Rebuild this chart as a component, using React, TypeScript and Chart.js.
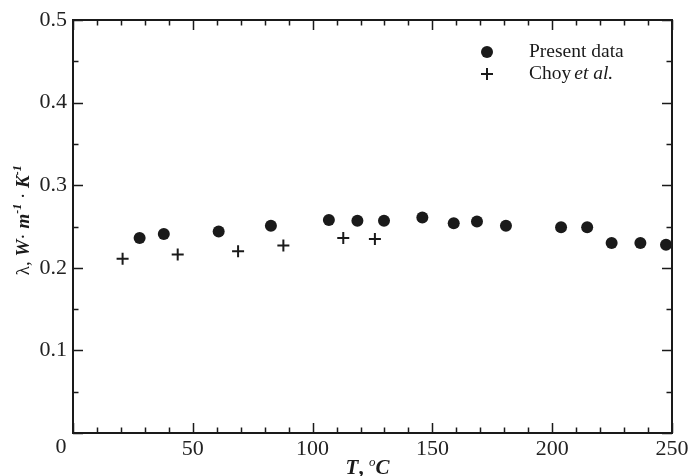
import React, { useEffect, useRef } from "react";
import { Chart, registerables } from "chart.js";

Chart.register(...registerables);

// ---- Data ----
const presentT = [27.8, 37.9, 60.8, 82.6, 106.8, 118.7, 129.8, 145.8, 158.9, 168.6, 180.7, 203.7, 214.6, 224.8, 236.8, 247.5];
const presentK = [0.236, 0.241, 0.244, 0.251, 0.258, 0.257, 0.257, 0.261, 0.254, 0.256, 0.251, 0.249, 0.249, 0.230, 0.230, 0.228];
const choyT = [20.7, 43.7, 68.9, 87.8, 112.8, 126.0];
const choyK = [0.211, 0.216, 0.220, 0.227, 0.236, 0.235];

const xTicks = [0, 50, 100, 150, 200, 250];
const yTicks = [0.1, 0.2, 0.3, 0.4, 0.5];

const SERIF = '"Liberation Serif", "DejaVu Serif", "Times New Roman", serif';
const INK = "#1a1a1a";

const framePlugin = {
  id: "frameAndTicks",
  afterDatasetsDraw(chart: any) {
    const { ctx, chartArea: a, scales } = chart;
    const xs = scales.x;
    const ys = scales.y;
    ctx.save();
    ctx.strokeStyle = INK;
    // minor/major inward ticks on all four sides
    ctx.lineWidth = 1.5;
    for (let v = 0; v <= 250; v += 10) {
      const px = Math.round(xs.getPixelForValue(v)) + 0.5;
      const len = v % 50 === 0 ? 10 : 5.5;
      ctx.beginPath();
      ctx.moveTo(px, a.bottom);
      ctx.lineTo(px, a.bottom - len);
      ctx.moveTo(px, a.top);
      ctx.lineTo(px, a.top + len);
      ctx.stroke();
    }
    for (let i = 0; i <= 10; i++) {
      const v = i * 0.05;
      const py = Math.round(ys.getPixelForValue(v)) + 0.5;
      const len = i % 2 === 0 ? 10 : 5.5;
      ctx.beginPath();
      ctx.moveTo(a.left, py);
      ctx.lineTo(a.left + len, py);
      ctx.moveTo(a.right, py);
      ctx.lineTo(a.right - len, py);
      ctx.stroke();
    }
    // frame
    ctx.lineWidth = 2;
    ctx.strokeRect(a.left, a.top, a.right - a.left, a.bottom - a.top);

    // origin label "0"
    ctx.fillStyle = "#222";
    ctx.font = `22px ${SERIF}`;
    ctx.textAlign = "center";
    ctx.textBaseline = "middle";
    ctx.fillText("0", a.left - 12, a.bottom + 14);

    // legend
    const lx = a.right - 185;
    const tx = a.right - 143;
    const ly1 = a.top + 32;
    const ly2 = a.top + 54;
    ctx.fillStyle = INK;
    ctx.beginPath();
    ctx.arc(lx, ly1, 6, 0, Math.PI * 2);
    ctx.fill();
    ctx.lineWidth = 2;
    ctx.beginPath();
    ctx.moveTo(lx - 6, ly2);
    ctx.lineTo(lx + 6, ly2);
    ctx.moveTo(lx, ly2 - 6);
    ctx.lineTo(lx, ly2 + 6);
    ctx.stroke();
    ctx.textAlign = "left";
    ctx.font = `19.5px ${SERIF}`;
    ctx.fillText("Present data", tx, ly1);
    ctx.fillText("Choy ", tx, ly2);
    const w = ctx.measureText("Choy").width + 3;
    ctx.font = `italic 19.5px ${SERIF}`;
    ctx.fillText("et al.", tx + w, ly2);

    // x-axis title: T, °C
    const xParts: [string, string, number][] = [
      ["T", `bold italic 21px ${SERIF}`, 0],
      [", ", `bold 21px ${SERIF}`, 0],
      ["o", `italic 13px ${SERIF}`, -8],
      ["C", `bold italic 21px ${SERIF}`, 0],
    ];
    let total = 0;
    for (const [t, f] of xParts) {
      ctx.font = f;
      total += ctx.measureText(t).width;
    }
    let cx = (a.left + a.right) / 2 - 5 - total / 2;
    const xBase = a.bottom + 41;
    ctx.textBaseline = "alphabetic";
    for (const [t, f, dy] of xParts) {
      ctx.font = f;
      ctx.fillText(t, cx, xBase + dy);
      cx += ctx.measureText(t).width;
    }

    // y-axis title: λ, W· m^-1 · K^-1
    const yParts: [string, string, number][] = [
      ["λ, ", `19px ${SERIF}`, 0],
      ["W", `bold italic 19px ${SERIF}`, 0],
      ["· ", `19px ${SERIF}`, 0],
      ["m", `bold italic 19px ${SERIF}`, 0],
      ["-1", `bold italic 12px ${SERIF}`, -8],
      [" · ", `19px ${SERIF}`, 0],
      ["K", `bold italic 19px ${SERIF}`, 0],
      ["-1", `bold italic 12px ${SERIF}`, -8],
    ];
    total = 0;
    for (const [t, f] of yParts) {
      ctx.font = f;
      total += ctx.measureText(t).width;
    }
    ctx.translate(29, a.top + (a.bottom - a.top) * 0.485);
    ctx.rotate(-Math.PI / 2);
    let cy = -total / 2;
    for (const [t, f, dy] of yParts) {
      ctx.font = f;
      ctx.fillText(t, cy, dy);
      cy += ctx.measureText(t).width;
    }
    ctx.restore();
  },
};

export default function App() {
  const ref = useRef<HTMLCanvasElement | null>(null);

  useEffect(() => {
    if (!ref.current) return;
    const chart = new Chart(ref.current, {
      type: "scatter",
      data: {
        datasets: [
          {
            label: "Present data",
            data: presentT.map((t, i) => ({ x: t, y: presentK[i] })),
            pointStyle: "circle",
            pointRadius: 6,
            pointBackgroundColor: INK,
            pointBorderColor: INK,
            pointBorderWidth: 0,
            clip: false,
          },
          {
            label: "Choy et al.",
            data: choyT.map((t, i) => ({ x: t, y: choyK[i] })),
            pointStyle: "cross",
            pointRadius: 6,
            pointBorderColor: INK,
            pointBorderWidth: 2,
            clip: false,
          },
        ],
      },
      options: {
        animation: false,
        responsive: true,
        maintainAspectRatio: false,
        layout: { padding: { top: 20, right: 17, left: 0, bottom: 0 } },
        plugins: {
          legend: { display: false },
          tooltip: { enabled: false },
        },
        scales: {
          x: {
            type: "linear",
            min: 0,
            max: 250,
            afterBuildTicks: (s: any) => {
              s.ticks = xTicks.map((v) => ({ value: v }));
            },
            afterFit: (s: any) => {
              s.height = 43;
              s.paddingLeft = 0;
              s.paddingRight = 0;
            },
            ticks: {
              padding: 3,
              color: "#222",
              font: { family: SERIF, size: 22 },
              maxRotation: 0,
              callback: (v: any) => (v === 0 ? "" : String(v)),
            },
            grid: { display: false, drawTicks: false },
            border: { display: false },
          },
          y: {
            type: "linear",
            min: 0,
            max: 0.5,
            afterBuildTicks: (s: any) => {
              s.ticks = yTicks.map((v) => ({ value: v }));
            },
            afterFit: (s: any) => {
              s.width = 73;
              s.paddingTop = 0;
              s.paddingBottom = 0;
            },
            ticks: {
              padding: 6,
              color: "#222",
              font: { family: SERIF, size: 22 },
              callback: (v: any) => Number(v).toFixed(1),
            },
            grid: { display: false, drawTicks: false },
            border: { display: false },
          },
        },
      },
      plugins: [framePlugin],
    });
    return () => chart.destroy();
  }, []);

  return (
    <div style={{ position: "absolute", left: 0, top: 0, width: 689, height: 476, background: "#fff" }}>
      <canvas ref={ref} />
    </div>
  );
}
